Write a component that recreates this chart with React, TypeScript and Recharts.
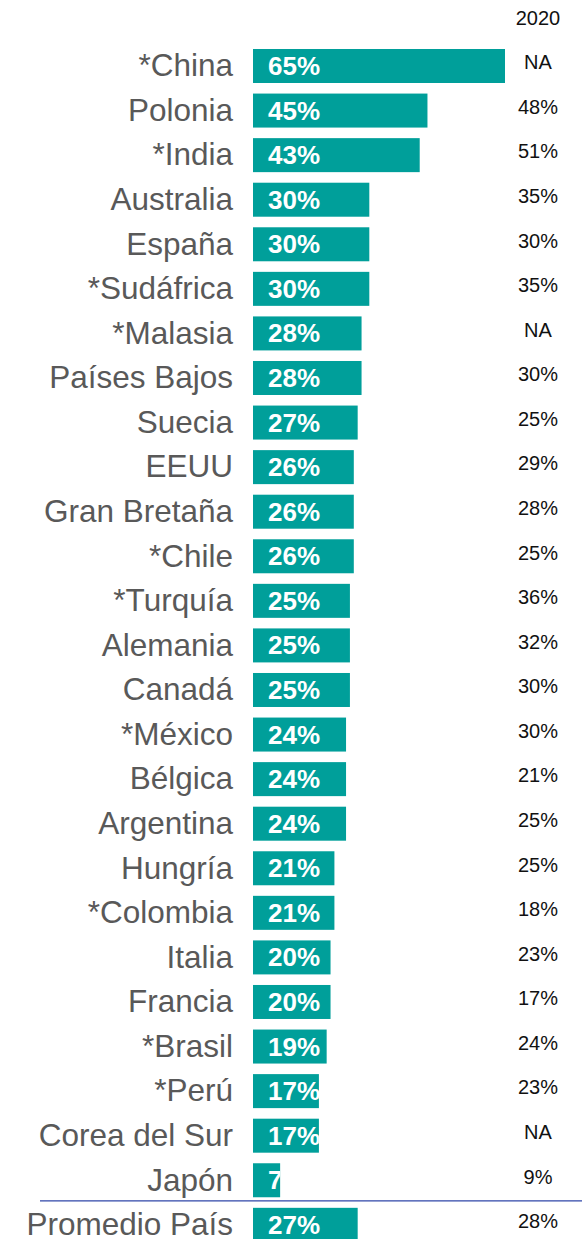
import React from 'react';
import { BarChart, Bar, XAxis, YAxis, ReferenceLine } from 'recharts';

const countries = [
  '*China', 'Polonia', '*India', 'Australia', 'España', '*Sudáfrica', '*Malasia',
  'Países Bajos', 'Suecia', 'EEUU', 'Gran Bretaña', '*Chile', '*Turquía', 'Alemania',
  'Canadá', '*México', 'Bélgica', 'Argentina', 'Hungría', '*Colombia', 'Italia',
  'Francia', '*Brasil', '*Perú', 'Corea del Sur', 'Japón', 'Promedio País',
];

const values2021 = [
  65, 45, 43, 30, 30, 30, 28, 28, 27, 26, 26, 26, 25, 25,
  25, 24, 24, 24, 21, 21, 20, 20, 19, 17, 17, 7, 27,
];

const labels2020 = [
  'NA', '48%', '51%', '35%', '30%', '35%', 'NA', '30%', '25%', '29%', '28%', '25%', '36%', '32%',
  '30%', '30%', '21%', '25%', '25%', '18%', '23%', '17%', '24%', '23%', 'NA', '9%', '28%',
];

const TEAL = '#009F9A';
const FONT = '"Liberation Sans", Arial, sans-serif';

const data = countries.map((name, i) => ({ name, value: values2021[i], prev: labels2020[i] }));

// bar with its value label clipped to the bar, like the original
const BarWithLabel = (props: any) => {
  const { x, y, width, height, index, value } = props;
  const v = Array.isArray(value) ? value[1] - value[0] : value;
  const id = `bar-clip-${index}`;
  return (
    <g>
      <defs>
        <clipPath id={id}>
          <rect x={x} y={y} width={width} height={height} />
        </clipPath>
      </defs>
      <rect x={x} y={y} width={width} height={height} fill={TEAL} />
      <text
        x={x + 15}
        y={y + height / 2 + 9}
        fill="#fff"
        fontSize={26}
        fontWeight="bold"
        fontFamily={FONT}
        clipPath={`url(#${id})`}
      >
        {v}%
      </text>
    </g>
  );
};

const LeftTick = (props: any) => {
  const { x, y, payload } = props;
  return (
    <text x={x} y={y + 10} textAnchor="end" fill="#595959" fontSize={31.5} fontFamily={FONT}>
      {payload.value}
    </text>
  );
};

const RightTick = (props: any) => {
  const { x, y, payload } = props;
  return (
    <text x={x + 33} y={y + 3} textAnchor="middle" fill="#111" fontSize={20} fontFamily={FONT}>
      {labels2020[payload.index]}
    </text>
  );
};

const App: React.FC = () => {
  return (
    <div style={{ position: 'absolute', left: 0, top: 0, width: 582, height: 1239, overflow: 'hidden', background: '#fff' }}>
      <BarChart
        width={582}
        height={1260}
        data={data}
        layout="vertical"
        margin={{ top: 44, right: 0, bottom: 12.6, left: 0 }}
      >
        <XAxis type="number" domain={[0, 65]} hide />
        <YAxis
          yAxisId="left"
          type="category"
          dataKey="name"
          width={253}
          axisLine={false}
          tickLine={false}
          tickSize={0}
          tickMargin={20}
          tick={<LeftTick />}
          interval={0}
        />
        <YAxis
          yAxisId="right"
          orientation="right"
          type="category"
          dataKey="name"
          width={77}
          axisLine={false}
          tickLine={false}
          tickSize={0}
          tickMargin={0}
          tick={<RightTick />}
          interval={0}
          label={{
            content: (p: any) => (
              <text
                x={p.viewBox.x + 33}
                y={p.viewBox.y - 19}
                textAnchor="middle"
                fill="#111"
                fontSize={20}
                fontFamily={FONT}
              >
                2020
              </text>
            ),
          }}
        />
        <Bar
          yAxisId="left"
          dataKey="value"
          barSize={34}
          isAnimationActive={false}
          shape={<BarWithLabel />}
        />
        <ReferenceLine
          yAxisId="left"
          y="Japón"
          position="end"
          ifOverflow="visible"
          shape={(p: any) => (
            <line x1={40} x2={582} y1={p.y1 - 2} y2={p.y1 - 2} stroke="#2F46A8" strokeWidth={1.2} />
          )}
        />
      </BarChart>
    </div>
  );
};

export default App;
